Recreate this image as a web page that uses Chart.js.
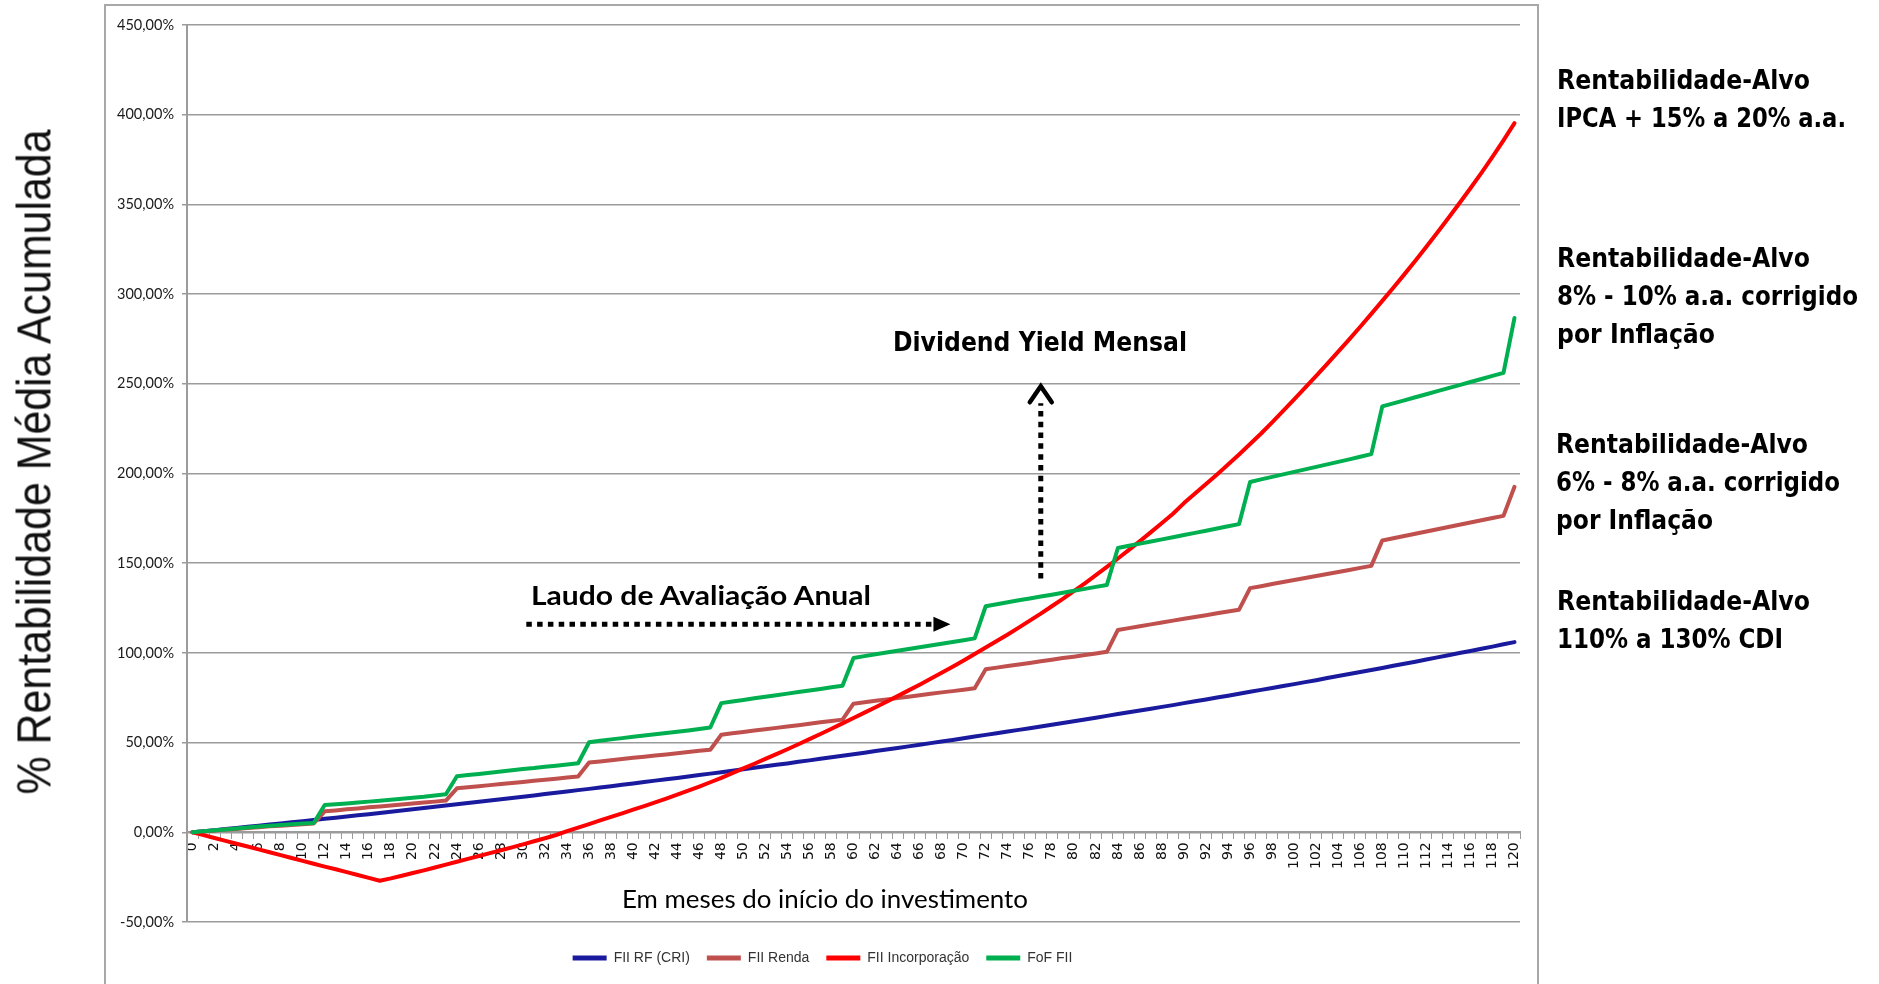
<!DOCTYPE html>
<html lang="pt-BR">
<head>
<meta charset="utf-8">
<title>% Rentabilidade Média Acumulada</title>
<script src="https://cdn.jsdelivr.net/npm/chart.js@4.4.1/dist/chart.umd.min.js"></script>
<style>
  html, body { margin: 0; padding: 0; width: 1879px; height: 984px; overflow: hidden; background: #fff; }
  #frame { position: absolute; left: 104px; top: 4px; width: 1435px; height: 1100px; border: 2px solid #a8a8a8; box-sizing: border-box; }
  #c { position: absolute; left: 0; top: 0; }
  .lbl { position: absolute; white-space: nowrap; line-height: 30px; height: 30px; transform-origin: 0 50%; color: #000; z-index: 2; }
  .side { font: bold 27px "DejaVu Sans", sans-serif; }
  .note { font: bold 27px "Lato", sans-serif; }
  .note2 { font: bold 26px "DejaVu Sans", sans-serif; }
  .xtitle { font: 25px "Lato", sans-serif; }
  #ytitle { position: absolute; left: 34px; top: 462px; white-space: nowrap; line-height: 1; color: #111;
            font: 48px "Liberation Sans Narrow", "Liberation Sans", sans-serif; transform-origin: 50% 50%; z-index: 2; }
</style>
</head>
<body>
<div id="frame"></div>
<canvas id="c" width="1879" height="984"></canvas>

<div id="ytitle" data-fit="665">% Rentabilidade Média Acumulada</div>
<div class="lbl xtitle" style="left:622px; top:883px;" data-fit="406">Em meses do início do investimento</div>
<div class="lbl note" style="left:531px; top:578px;" data-fit="340">Laudo de Avaliação Anual</div>
<div class="lbl note2" style="left:893px; top:327px;" data-fit="294">Dividend Yield Mensal</div>

<div class="lbl side" style="left:1557px; top:64px;" data-fit="253">Rentabilidade-Alvo</div>
<div class="lbl side" style="left:1557px; top:102px;" data-fit="289">IPCA + 15% a 20% a.a.</div>
<div class="lbl side" style="left:1557px; top:242px;" data-fit="253">Rentabilidade-Alvo</div>
<div class="lbl side" style="left:1557px; top:280px;" data-fit="301">8% - 10% a.a. corrigido</div>
<div class="lbl side" style="left:1557px; top:318px;" data-fit="158">por Inflação</div>
<div class="lbl side" style="left:1556px; top:428px;" data-fit="252">Rentabilidade-Alvo</div>
<div class="lbl side" style="left:1556px; top:466px;" data-fit="284">6% - 8% a.a. corrigido</div>
<div class="lbl side" style="left:1556px; top:504px;" data-fit="157">por Inflação</div>
<div class="lbl side" style="left:1557px; top:585px;" data-fit="253">Rentabilidade-Alvo</div>
<div class="lbl side" style="left:1557px; top:623px;" data-fit="226">110% a 130% CDI</div>

<script>
// Months since the start of the investment
const months = [
  0, 1, 2, 3, 4, 5, 6, 7, 8, 9, 10, 11, 12, 13, 14, 15, 16, 17, 18, 19, 20,
  21, 22, 23, 24, 25, 26, 27, 28, 29, 30, 31, 32, 33, 34, 35, 36, 37, 38, 39, 40,
  41, 42, 43, 44, 45, 46, 47, 48, 49, 50, 51, 52, 53, 54, 55, 56, 57, 58, 59, 60,
  61, 62, 63, 64, 65, 66, 67, 68, 69, 70, 71, 72, 73, 74, 75, 76, 77, 78, 79, 80,
  81, 82, 83, 84, 85, 86, 87, 88, 89, 90, 91, 92, 93, 94, 95, 96, 97, 98, 99, 100,
  101, 102, 103, 104, 105, 106, 107, 108, 109, 110, 111, 112, 113, 114, 115, 116, 117, 118, 119, 120
];

// Accumulated average return (%) per fund type
const fiiRfCri = [
  0, 0.6, 1.2, 1.8, 2.4, 3.1, 3.7, 4.3, 4.9, 5.6, 6.2,
  6.9, 7.5, 8.1, 8.8, 9.5, 10.1, 10.8, 11.5, 12.1, 12.8,
  13.5, 14.2, 14.9, 15.6, 16.3, 17.0, 17.7, 18.4, 19.1, 19.8,
  20.5, 21.3, 22.0, 22.7, 23.5, 24.2, 25.0, 25.7, 26.5, 27.2,
  28.0, 28.8, 29.6, 30.3, 31.1, 31.9, 32.7, 33.5, 34.3, 35.1,
  36.0, 36.8, 37.6, 38.4, 39.3, 40.1, 41.0, 41.8, 42.7, 43.5,
  44.4, 45.3, 46.1, 47.0, 47.9, 48.8, 49.7, 50.6, 51.5, 52.4,
  53.4, 54.3, 55.2, 56.2, 57.1, 58.0, 59.0, 60.0, 60.9, 61.9,
  62.9, 63.9, 64.9, 65.9, 66.9, 67.9, 68.9, 69.9, 70.9, 72.0,
  73.0, 74.0, 75.1, 76.1, 77.2, 78.3, 79.4, 80.4, 81.5, 82.6,
  83.7, 84.8, 86.0, 87.1, 88.2, 89.4, 90.5, 91.6, 92.8, 94.0,
  95.1, 96.3, 97.5, 98.7, 99.9, 101.1, 102.3, 103.5, 104.8, 106.0
];

const fiiRenda = [
  0, 0.5, 1.0, 1.5, 1.9, 2.4, 2.8, 3.3, 3.7, 4.1, 4.5, 4.9,
  11.7, 12.2, 12.8, 13.3, 13.9, 14.4, 15.0, 15.5, 16.0, 16.6, 17.1, 17.7,
  24.5, 25.1, 25.7, 26.3, 26.9, 27.5, 28.1, 28.7, 29.3, 29.9, 30.5, 31.1,
  38.9, 39.5, 40.2, 40.8, 41.5, 42.1, 42.8, 43.4, 44.1, 44.7, 45.4, 46.0,
  54.4, 55.2, 55.9, 56.7, 57.4, 58.2, 59.0, 59.7, 60.5, 61.3, 62.0, 62.8,
  71.7, 72.5, 73.3, 74.0, 74.8, 75.6, 76.4, 77.2, 78.0, 78.7, 79.5, 80.3,
  90.9, 91.8, 92.7, 93.5, 94.4, 95.3, 96.2, 97.1, 97.9, 98.8, 99.7, 100.6,
  112.8, 113.8, 114.9, 115.9, 116.9, 118.0, 119.0, 120.0, 121.0, 122.1, 123.1, 124.1,
  136.1, 137.2, 138.4, 139.5, 140.6, 141.7, 142.9, 144.0, 145.1, 146.2, 147.4, 148.5,
  162.7, 163.9, 165.2, 166.4, 167.7, 168.9, 170.2, 171.4, 172.7, 173.9, 175.2, 176.4,
  192.6
];

const fiiIncorporacao = [
  0, -1.6, -3.2, -4.8, -6.4, -7.9, -9.5, -11.1, -12.7, -14.3, -15.9, -17.5, -19.1, -20.6, -22.2, -23.8, -25.4, -27.0,
  -25.7, -24.2, -22.7, -21.2, -19.6, -18.0, -16.4, -14.8, -13.2, -11.6, -10.0, -8.4, -6.7, -5.0, -3.3, -1.5,
  0.6, 2.6, 4.6, 6.6, 8.6, 10.6, 12.6, 14.6, 16.7, 18.8, 21.0, 23.2, 25.5, 27.9, 30.3,
  33.0, 35.6, 38.2, 40.9, 43.6, 46.3, 49.1, 51.9, 54.8, 57.7, 60.7, 63.7,
  66.7, 69.7, 72.8, 75.9, 79.1, 82.3, 85.6, 88.9, 92.3, 95.8, 99.4, 103.0,
  106.6, 110.3, 114.1, 118.0, 121.9, 126.0, 130.1, 134.4, 138.8, 143.3, 147.9, 152.6,
  157.4, 162.3, 167.3, 172.4, 177.6, 183.5, 188.8, 194.1, 199.5, 205.0, 210.6, 216.4,
  222.3, 228.5, 234.9, 241.3, 247.8, 254.4, 261.1, 267.9, 274.8, 281.8, 289.0, 296.2,
  303.5, 311.0, 318.6, 326.4, 334.3, 342.4, 350.6, 359.0, 367.6, 376.5, 385.7, 395.3
];

const fofFii = [
  0, 0.6, 1.1, 1.6, 2.1, 2.7, 3.2, 3.6, 4.1, 4.5, 4.9, 5.2,
  15.2, 15.6, 16.1, 16.6, 17.1, 17.6, 18.2, 18.7, 19.3, 19.8, 20.5, 21.2,
  31.2, 31.9, 32.5, 33.2, 33.9, 34.6, 35.3, 35.8, 36.5, 37.1, 37.8, 38.5,
  50.2, 51.0, 51.8, 52.5, 53.2, 53.9, 54.6, 55.3, 56.0, 56.8, 57.6, 58.4,
  72.0, 72.9, 73.8, 74.7, 75.6, 76.4, 77.3, 78.2, 79.0, 79.9, 80.8, 81.7,
  97.2, 98.2, 99.2, 100.2, 101.2, 102.2, 103.1, 104.1, 105.1, 106.1, 107.1, 108.1,
  126.0, 127.1, 128.2, 129.3, 130.3, 131.4, 132.4, 133.5, 134.6, 135.7, 136.8, 137.9,
  158.5, 159.7, 160.9, 162.1, 163.3, 164.5, 165.7, 166.9, 168.1, 169.3, 170.6, 171.8,
  195.3, 196.7, 198.1, 199.5, 200.9, 202.3, 203.7, 205.1, 206.5, 207.9, 209.3, 210.8,
  237.4, 239.1, 240.8, 242.5, 244.2, 245.9, 247.6, 249.3, 251.0, 252.7, 254.4, 256.1,
  286.7
];

const seriesNames = ['FII RF (CRI)', 'FII Renda', 'FII Incorporação', 'FoF FII'];
const seriesColors = ['#1a1a9e', '#c0504d', '#ff0000', '#00b050'];

// Y axis tick values (%)
const yTicks = [-50, 0, 50, 100, 150, 200, 250, 300, 350, 400, 450];

// Dotted arrows, expressed in month / percent units
const laudoArrow = { fromMonth: 30.3, toMonth: 68.8, level: 116 };
const yieldArrow = { month: 77, fromLevel: 141.5, toLevel: 250.3 };

const fmtPct = v => v.toFixed(2).replace('.', ',') + '%';

const arrowsPlugin = {
  id: 'dottedArrows',
  afterDatasetsDraw(chart) {
    const { ctx, scales: { x, y } } = chart;
    ctx.save();
    ctx.strokeStyle = '#000';
    ctx.fillStyle = '#000';

    // horizontal arrow (annual appraisal)
    const hx1 = x.getPixelForValue(laudoArrow.fromMonth);
    const hx2 = x.getPixelForValue(laudoArrow.toMonth);
    const hy = y.getPixelForValue(laudoArrow.level);
    ctx.lineWidth = 5;
    ctx.lineCap = 'butt';
    ctx.setLineDash([5.5, 5.3]);
    ctx.beginPath();
    ctx.moveTo(hx1, hy);
    ctx.lineTo(hx2 - 18, hy);
    ctx.stroke();
    ctx.setLineDash([]);
    ctx.beginPath();
    ctx.moveTo(hx2, hy);
    ctx.lineTo(hx2 - 17, hy - 7.5);
    ctx.lineTo(hx2 - 17, hy + 7.5);
    ctx.closePath();
    ctx.fill();

    // vertical arrow (monthly dividend yield)
    const vx = x.getPixelForValue(yieldArrow.month);
    const vy1 = y.getPixelForValue(yieldArrow.fromLevel);
    const vy2 = y.getPixelForValue(yieldArrow.toLevel);
    ctx.lineWidth = 5;
    ctx.setLineDash([5.5, 5.3]);
    ctx.beginPath();
    ctx.moveTo(vx, vy1);
    ctx.lineTo(vx, vy2 + 20);
    ctx.stroke();
    ctx.setLineDash([]);
    ctx.lineWidth = 4.5;
    ctx.lineJoin = 'miter';
    ctx.lineCap = 'round';
    ctx.beginPath();
    ctx.moveTo(vx - 11, vy2 + 19);
    ctx.lineTo(vx, vy2 + 3);
    ctx.lineTo(vx + 11, vy2 + 19);
    ctx.stroke();
    ctx.restore();
  }
};

// Nudge the legend row a little to the right of the frame centre
const legendShift = {
  id: 'legendShift',
  afterLayout(chart) {
    if (chart.legend) {
      chart.legend.left += 10;
      chart.legend.right += 10;
    }
  }
};

const datasets = [fiiRfCri, fiiRenda, fiiIncorporacao, fofFii].map((vals, i) => ({
  label: seriesNames[i],
  data: vals,
  borderColor: seriesColors[i],
  backgroundColor: seriesColors[i],
  borderWidth: 4,
  pointRadius: 0,
  tension: 0,
  borderJoinStyle: 'round',
  borderCapStyle: 'round',
  order: 3 - i
}));

new Chart(document.getElementById('c'), {
  type: 'line',
  data: { labels: months, datasets },
  plugins: [arrowsPlugin, legendShift],
  options: {
    responsive: false,
    animation: false,
    events: [],
    layout: { padding: { left: 105, right: 359, top: 25, bottom: 9 } },
    scales: {
      x: {
        type: 'category',
        position: { y: 0 },
        offset: true,
        grid: { display: true, drawOnChartArea: false, drawTicks: true, tickLength: 6, color: '#9b9b9b', lineWidth: 1, offset: true },
        border: { display: true, color: '#9b9b9b', width: 2 },
        ticks: {
          autoSkip: false, minRotation: 90, maxRotation: 90, padding: 4,
          color: '#111', font: { family: 'DejaVu Sans', size: 14 },
          callback: (v, i) => (i % 2 === 0 ? String(months[i]) : '')
        }
      },
      y: {
        min: yTicks[0],
        max: yTicks[yTicks.length - 1],
        afterBuildTicks: s => { s.ticks = yTicks.map(v => ({ value: v })); },
        afterFit: s => { s.width = 82; },
        grid: { color: '#9b9b9b', lineWidth: 1.5, drawTicks: true, tickLength: 5 },
        border: { display: true, color: '#9b9b9b', width: 2 },
        ticks: { padding: 8, color: '#1a1a1a', font: { family: 'Lato', size: 14.5 }, callback: v => fmtPct(v) }
      }
    },
    plugins: {
      tooltip: { enabled: false },
      legend: {
        position: 'bottom',
        align: 'center',
        title: { display: true, text: '', padding: 0, font: { size: 10 } },
        labels: {
          boxWidth: 34, boxHeight: 5, padding: 17,
          color: '#333', font: { family: 'Liberation Sans', size: 14 },
          generateLabels(chart) {
            const items = Chart.defaults.plugins.legend.labels.generateLabels(chart);
            items.forEach(it => { it.lineWidth = 0; it.fillStyle = it.strokeStyle; });
            return items.sort((a, b) => a.datasetIndex - b.datasetIndex);
          }
        }
      }
    }
  }
});

// Squeeze each text block horizontally to its intended width
function fitTexts() {
  document.querySelectorAll('[data-fit]').forEach(el => {
    el.style.transform = 'none';
    const natural = el.getBoundingClientRect().width;
    const s = parseFloat(el.dataset.fit) / natural;
    if (el.id === 'ytitle') {
      el.style.transform = `translate(-50%, -50%) rotate(-90deg) scaleX(${s})`;
    } else {
      el.style.transform = `scaleX(${s})`;
    }
  });
}
fitTexts();
if (document.fonts && document.fonts.ready) document.fonts.ready.then(fitTexts);
</script>
</body>
</html>
